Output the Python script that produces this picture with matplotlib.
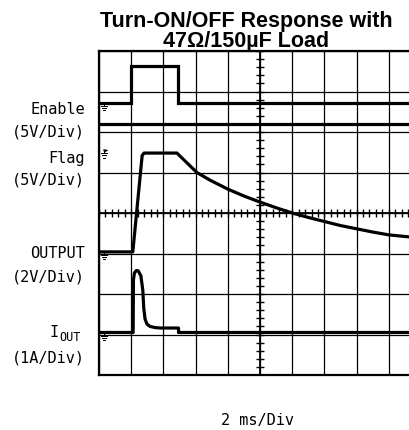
import numpy as np
import matplotlib
matplotlib.use('Agg')
import matplotlib.pyplot as plt


# traces in scope divisions (x: 0..10 div of 2 ms, y: 0..8 div from bottom)
enable_x = [0, 1.0, 1.0, 2.45, 2.45, 10]
enable_y = [6.72, 6.72, 7.63, 7.63, 6.72, 6.72]

flag_x = [0, 10]
flag_y = [6.19, 6.19]

output_x = [0, 1.05, 1.34, 1.40, 2.42, 3.04, 3.45, 4.0, 4.5, 5.0, 5.5,
            6.0, 6.5, 7.0, 7.5, 8.0, 8.5, 9.0, 9.5, 10.0]
output_y = [3.04, 3.04, 5.42, 5.48, 5.48, 5.00, 4.81, 4.59, 4.42, 4.27, 4.13,
            4.00, 3.89, 3.79, 3.69, 3.61, 3.53, 3.46, 3.42, 3.38]

iout_x = [0, 1.06, 1.07, 1.10, 1.16, 1.22, 1.30, 1.36, 1.39, 1.43, 1.49, 1.58,
          1.75, 1.90, 2.47, 2.47, 10]
iout_y = [1.05, 1.05, 2.35, 2.52, 2.58, 2.57, 2.45, 2.10, 1.65, 1.38, 1.26, 1.20,
          1.17, 1.16, 1.16, 1.05, 1.05]

ground_y = [6.72, 5.55, 3.04, 1.04]
channel_labels = [("Enable", 110), ("(5V/Div)", 132), ("Flag", 158), ("(5V/Div)", 180),
                  ("OUTPUT", 253), ("(2V/Div)", 277), ("(1A/Div)", 358)]

W, H = 410, 431


def fx(px):
    return px / W


def fy(py):
    return 1 - py / H


fig = plt.figure(figsize=(W / 100, H / 100), dpi=100)
ax = fig.add_axes([fx(99), fy(376), 322 / W, 324 / H])
ax.set_xlim(0, 10)
ax.set_ylim(0, 8)
ax.set_xticks(range(11))
ax.set_yticks(range(9))
ax.tick_params(length=0, labelbottom=False, labelleft=False)
ax.grid(True, color='black', lw=0.9)
for s in ax.spines.values():
    s.set_linewidth(1.6)

# centre graticule ticks
minor = np.arange(0, 8.01, 0.2)
ax.plot(np.full(len(minor), 5), minor, ls='none', marker='_', ms=6, mew=1.0, color='k')
minor = np.arange(0, 10.01, 0.2)
ax.plot(minor, np.full(len(minor), 4), ls='none', marker='|', ms=6, mew=1.0, color='k')
ax.axvline(5, color='k', lw=1.3)
ax.axhline(4, color='k', lw=1.3)

lw = 2.3
ax.plot(enable_x, enable_y, color='k', lw=lw, solid_joinstyle='miter')
ax.plot(flag_x, flag_y, color='k', lw=lw)
ax.plot(output_x, output_y, color='k', lw=lw, solid_joinstyle='round')
ax.plot(iout_x, iout_y, color='k', lw=lw, solid_joinstyle='round')

# ground markers
for i, gy in enumerate(ground_y):
    x0, y0 = 0.16, gy - 0.08
    ax.plot([x0, x0], [y0 + 0.08, y0], color='k', lw=0.7)
    for j, hw in enumerate([0.09, 0.06, 0.03]):
        yy = y0 - j * 0.05
        ax.plot([x0 - hw, x0 + hw], [yy, yy], color='k', lw=0.7)
    if i == 1:
        ax.annotate('', xy=(x0 + 0.2, gy + 0.02), xytext=(x0, gy - 0.02),
                    arrowprops=dict(arrowstyle='-|>', lw=0.7, color='k',
                                    mutation_scale=5))

mono = 'DejaVu Sans Mono'
for txt, py in channel_labels:
    fig.text(fx(85), fy(py), txt, ha='right', va='center', family=mono, fontsize=11)
fig.text(fx(59), fy(333), "I", ha='right', va='center', family=mono, fontsize=11)
fig.text(fx(59), fy(338), "OUT", ha='left', va='center', family=mono, fontsize=8.5)

fig.text(fx(258), fy(421), "2 ms/Div", ha='center', va='center', family=mono, fontsize=11)

fig.text(fx(246), fy(27), "Turn-ON/OFF Response with", ha='center', va='baseline',
         family='Liberation Sans', fontweight='bold', fontsize=15.5)
fig.text(fx(246), fy(47), "47\u03a9/150\u00b5F Load", ha='center', va='baseline',
         family='Liberation Sans', fontweight='bold', fontsize=15.5)

fig.savefig('out.png', dpi=100)
